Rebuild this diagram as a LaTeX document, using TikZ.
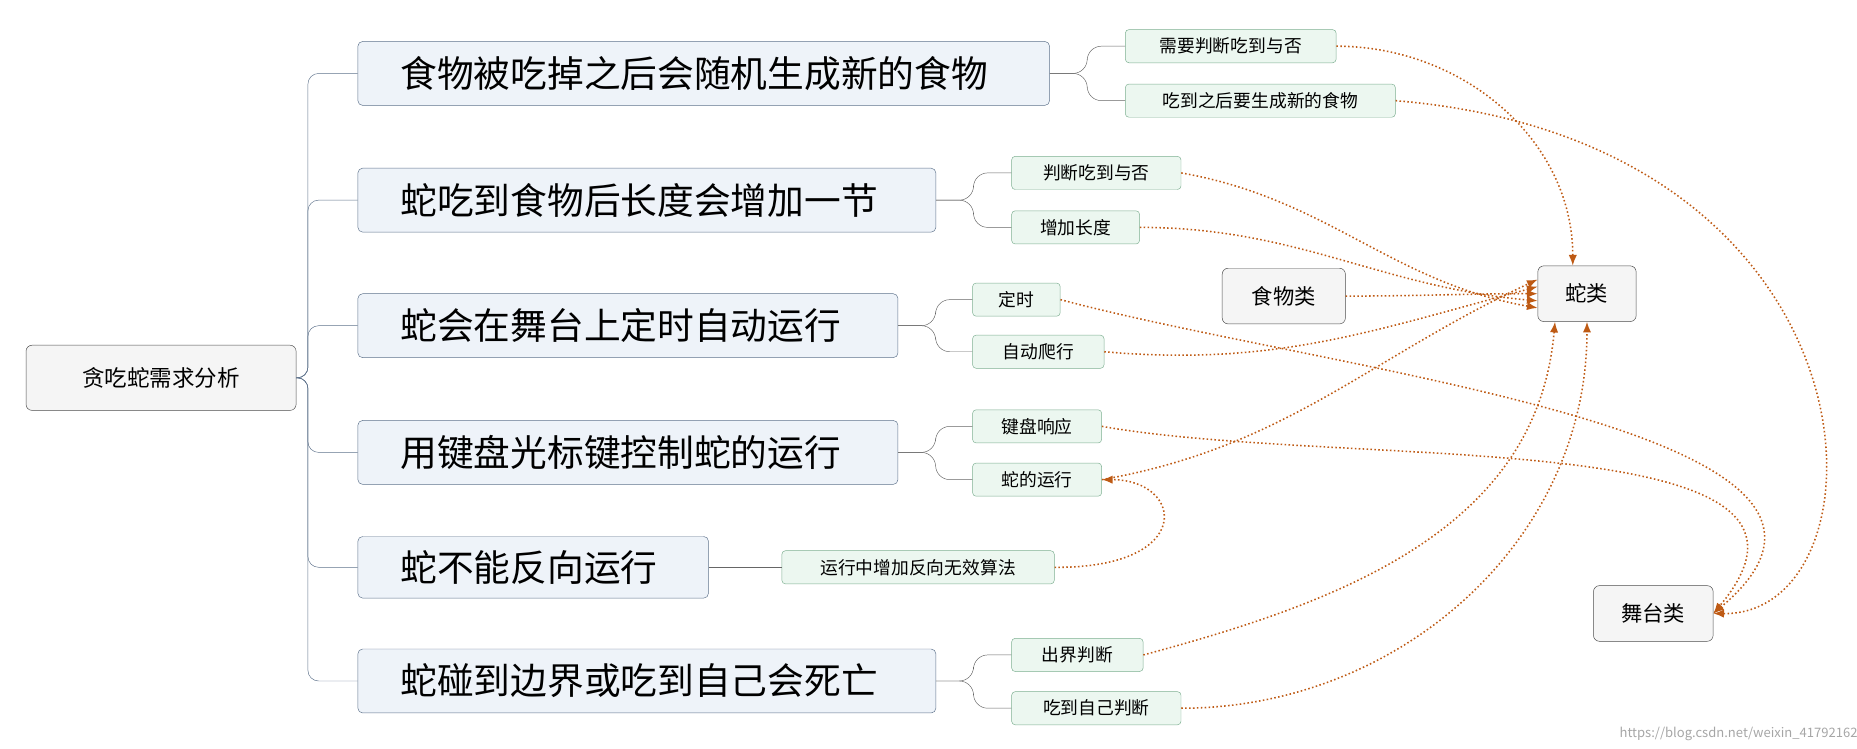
\documentclass[tikz,border=0pt]{standalone}
\usepackage{fontspec}
\setmainfont{Noto Sans CJK SC}
\usetikzlibrary{arrows.meta}
\definecolor{mainfill}{RGB}{238,243,249}
\definecolor{mainline}{RGB}{95,115,140}
\definecolor{subfill}{RGB}{236,247,240}
\definecolor{subline}{RGB}{125,175,145}
\definecolor{linkbrown}{RGB}{190,90,20}
\tikzset{x=1pt,y=-1pt,
mainbox/.style={draw=mainline,fill=mainfill,rounded corners=4pt,minimum height=54pt,
  align=left,inner xsep=36pt,font=\fontsize{31}{34}\selectfont},
subbox/.style={draw=subline,fill=subfill,rounded corners=3pt,minimum height=28pt,
  inner xsep=10pt,font=\fontsize{15}{17}\selectfont},
classbox/.style={draw=black!70,fill=black!4,rounded corners=5pt,minimum height=47pt,
  inner xsep=16pt,font=\fontsize{18}{20}\selectfont},
trunk/.style={draw=mainline,rounded corners=9pt},
branch/.style={draw=black!60,rounded corners=12pt},
link/.style={draw=linkbrown,dotted,line width=1.3pt,-{Latex[length=9pt,width=7pt]}}}
\begin{document}
\begin{tikzpicture}
\useasboundingbox (0,0) rectangle (1568,632);
% root and requirements
\node[classbox,minimum width=228pt,minimum height=55pt,font=\fontsize{19}{22}\selectfont] (root) at (136,319) {贪吃蛇需求分析};
\node[mainbox,anchor=west,text width=512pt] (m1) at (302,62) {食物被吃掉之后会随机生成新的食物};
\node[mainbox,anchor=west,text width=416pt] (m2) at (302,169) {蛇吃到食物后长度会增加一节};
\node[mainbox,anchor=west,text width=384pt] (m3) at (302,275) {蛇会在舞台上定时自动运行};
\node[mainbox,anchor=west,text width=384pt] (m4) at (302,382) {用键盘光标键控制蛇的运行};
\node[mainbox,anchor=west,text width=224pt,minimum height=52pt] (m5) at (302,479) {蛇不能反向运行};
\node[mainbox,anchor=west,text width=416pt] (m6) at (302,575) {蛇碰到边界或吃到自己会死亡};
\foreach \m in {m1,m2,m3,m4,m5,m6}
  \draw[trunk] (root.east) -- (260,319) |- (\m.west);
% details
\node[subbox,anchor=west,minimum width=178pt] (s1) at (950,39) {需要判断吃到与否};
\node[subbox,anchor=west,minimum width=228pt] (s2) at (950,85) {吃到之后要生成新的食物};
\node[subbox,anchor=west,minimum width=143pt] (s3) at (854,146) {判断吃到与否};
\node[subbox,anchor=west,minimum width=108pt] (s4) at (854,192) {增加长度};
\node[subbox,anchor=west,minimum width=74pt] (s5) at (821,253) {定时};
\node[subbox,anchor=west,minimum width=111pt] (s6) at (821,297) {自动爬行};
\node[subbox,anchor=west,minimum width=109pt] (s7) at (821,360) {键盘响应};
\node[subbox,anchor=west,minimum width=109pt] (s8) at (821,405) {蛇的运行};
\node[subbox,anchor=west,minimum width=230pt] (s9) at (660,479) {运行中增加反向无效算法};
\node[subbox,anchor=west,minimum width=111pt] (s10) at (854,553) {出界判断};
\node[subbox,anchor=west,minimum width=143pt] (s11) at (854,598) {吃到自己判断};
\draw[branch] (m1.east) -- (918,62) |- (s1.west);
\draw[branch] (m1.east) -- (918,62) |- (s2.west);
\draw[branch] (m2.east) -- (822,169) |- (s3.west);
\draw[branch] (m2.east) -- (822,169) |- (s4.west);
\draw[branch] (m3.east) -- (790,275) |- (s5.west);
\draw[branch] (m3.east) -- (790,275) |- (s6.west);
\draw[branch] (m4.east) -- (790,382) |- (s7.west);
\draw[branch] (m4.east) -- (790,382) |- (s8.west);
\draw[branch] (m5.east) -- (s9.west);
\draw[branch] (m6.east) -- (822,575) |- (s10.west);
\draw[branch] (m6.east) -- (822,575) |- (s11.west);
% classes
\node[classbox,minimum width=104pt] (food) at (1084,250) {食物类};
\node[classbox,minimum width=83pt] (snake) at (1340,248) {蛇类};
\node[classbox,minimum width=101pt] (stage) at (1396,518) {舞台类};
% links
\draw[link] (s1.east) to[out=0,in=90] ([xshift=-12pt]snake.north);
\draw[link] (s2.east) .. controls (1600,120) and (1600,520) .. (stage.east);
\draw[link] (s3.east) to[out=-10,in=170] ([yshift=-12pt]snake.west);
\draw[link] (s4.east) to[out=0,in=175] ([yshift=-6pt]snake.west);
\draw[link] (food.east) to[out=0,in=180] (snake.west);
\draw[link] (s5.east) to[out=-15,in=40] (stage.east);
\draw[link] (s6.east) to[out=-5,in=195] ([yshift=6pt]snake.west);
\draw[link] (s7.east) to[out=-10,in=50] (stage.east);
\draw[link] (s8.east) to[out=10,in=205] ([yshift=12pt]snake.west);
\draw[link] (s9.east) .. controls (1010,480) and (1000,405) .. (s8.east);
\draw[link] (s10.east) to[out=15,in=-95] ([xshift=-27pt]snake.south);
\draw[link] (s11.east) to[out=0,in=-90] (snake.south);
\node[text=black!35,font=\fontsize{11}{12}\selectfont] (mark) at (1468,620) {https://blog.csdn.net/weixin\_41792162};
\end{tikzpicture}
\end{document}
